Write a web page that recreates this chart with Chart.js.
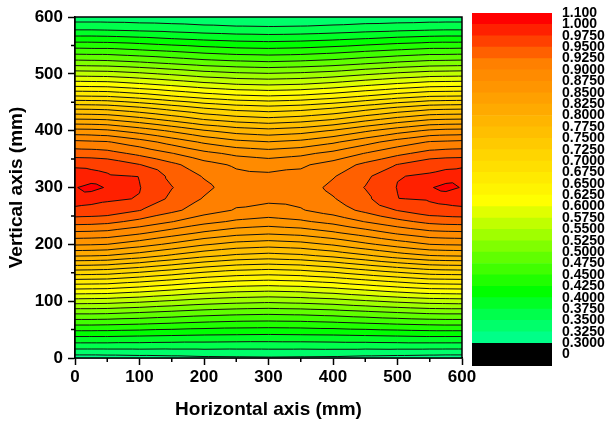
<!DOCTYPE html>
<html>
<head>
<meta charset="utf-8">
<title>Contour map</title>
<script src="https://cdn.jsdelivr.net/npm/chart.js@4.4.1/dist/chart.umd.min.js"></script>
<style>
  html, body { margin: 0; padding: 0; background: #fff; }
  #wrap { position: relative; width: 607px; height: 421px; overflow: hidden; }
  #main { position: absolute; left: 0; top: 0; }
  #bar { position: absolute; left: 460px; top: 0; }
</style>
</head>
<body>
<div id="wrap">
  <canvas id="main" width="482" height="421"></canvas>
  <canvas id="bar" width="147" height="421"></canvas>
</div>
<script>
// Filled contour map of a 600 x 600 mm plane, bands every 0.025, black isolines.
// Grid values (x across, y upwards).

const xNodes = [0, 25, 50, 100, 150, 200, 250, 300, 350, 400, 450, 500, 550, 575, 600];
const yNodes = [0, 20, 40, 60, 80, 100, 120, 140, 160, 180, 200, 220, 240, 260, 280, 300,
                320, 340, 360, 380, 400, 420, 440, 460, 480, 500, 520, 540, 560, 580, 600];

// zGrid[j][i] = value at (xNodes[i], yNodes[j])
const zGrid = [
  [0.312, 0.312, 0.313, 0.315, 0.317, 0.320, 0.321, 0.322, 0.321, 0.320, 0.317, 0.315, 0.313, 0.312, 0.312],
  [0.360, 0.360, 0.360, 0.360, 0.359, 0.359, 0.358, 0.358, 0.358, 0.359, 0.359, 0.360, 0.360, 0.360, 0.360],
  [0.405, 0.405, 0.405, 0.403, 0.401, 0.399, 0.398, 0.397, 0.398, 0.399, 0.401, 0.403, 0.405, 0.405, 0.405],
  [0.455, 0.455, 0.454, 0.451, 0.447, 0.443, 0.440, 0.439, 0.440, 0.443, 0.447, 0.451, 0.454, 0.455, 0.455],
  [0.506, 0.506, 0.505, 0.500, 0.494, 0.488, 0.484, 0.482, 0.484, 0.488, 0.494, 0.500, 0.505, 0.506, 0.506],
  [0.563, 0.562, 0.561, 0.555, 0.547, 0.539, 0.534, 0.531, 0.534, 0.539, 0.547, 0.555, 0.561, 0.562, 0.563],
  [0.621, 0.620, 0.619, 0.611, 0.601, 0.591, 0.584, 0.581, 0.584, 0.591, 0.601, 0.611, 0.619, 0.620, 0.621],
  [0.680, 0.679, 0.678, 0.668, 0.657, 0.645, 0.637, 0.633, 0.637, 0.645, 0.657, 0.668, 0.678, 0.679, 0.680],
  [0.741, 0.740, 0.738, 0.727, 0.714, 0.700, 0.690, 0.686, 0.690, 0.700, 0.714, 0.727, 0.738, 0.740, 0.741],
  [0.802, 0.801, 0.799, 0.787, 0.771, 0.756, 0.745, 0.740, 0.745, 0.756, 0.771, 0.787, 0.799, 0.801, 0.802],
  [0.853, 0.852, 0.850, 0.836, 0.820, 0.803, 0.791, 0.786, 0.791, 0.803, 0.820, 0.836, 0.850, 0.852, 0.853],
  [0.895, 0.894, 0.892, 0.879, 0.862, 0.846, 0.834, 0.829, 0.834, 0.846, 0.862, 0.879, 0.892, 0.894, 0.895],
  [0.936, 0.935, 0.932, 0.918, 0.901, 0.883, 0.871, 0.865, 0.871, 0.883, 0.901, 0.918, 0.932, 0.935, 0.936],
  [0.970, 0.968, 0.966, 0.951, 0.931, 0.912, 0.898, 0.892, 0.898, 0.912, 0.931, 0.951, 0.966, 0.968, 0.970],
  [0.985, 0.982, 0.978, 0.974, 0.944, 0.923, 0.907, 0.905, 0.907, 0.923, 0.944, 0.974, 0.978, 0.982, 0.985],
  [0.998, 1.010, 0.997, 0.976, 0.951, 0.931, 0.912, 0.910, 0.912, 0.931, 0.951, 0.976, 0.997, 1.010, 0.998],
  [0.986, 0.982, 0.978, 0.974, 0.944, 0.923, 0.907, 0.905, 0.907, 0.923, 0.944, 0.974, 0.978, 0.982, 0.986],
  [0.971, 0.970, 0.967, 0.951, 0.931, 0.910, 0.896, 0.890, 0.896, 0.910, 0.931, 0.951, 0.967, 0.970, 0.971],
  [0.938, 0.937, 0.934, 0.919, 0.901, 0.882, 0.869, 0.863, 0.869, 0.882, 0.901, 0.919, 0.934, 0.937, 0.938],
  [0.906, 0.904, 0.902, 0.886, 0.866, 0.846, 0.832, 0.826, 0.832, 0.846, 0.866, 0.886, 0.902, 0.904, 0.906],
  [0.858, 0.857, 0.854, 0.839, 0.821, 0.802, 0.789, 0.783, 0.789, 0.802, 0.821, 0.839, 0.854, 0.857, 0.858],
  [0.801, 0.800, 0.798, 0.784, 0.767, 0.749, 0.738, 0.732, 0.738, 0.749, 0.767, 0.784, 0.798, 0.800, 0.801],
  [0.744, 0.743, 0.741, 0.729, 0.714, 0.699, 0.689, 0.684, 0.689, 0.699, 0.714, 0.729, 0.741, 0.743, 0.744],
  [0.678, 0.677, 0.676, 0.666, 0.653, 0.641, 0.632, 0.628, 0.632, 0.641, 0.653, 0.666, 0.676, 0.677, 0.678],
  [0.619, 0.618, 0.617, 0.608, 0.598, 0.587, 0.579, 0.576, 0.579, 0.587, 0.598, 0.608, 0.617, 0.618, 0.619],
  [0.564, 0.563, 0.562, 0.555, 0.546, 0.536, 0.530, 0.527, 0.530, 0.536, 0.546, 0.555, 0.562, 0.563, 0.564],
  [0.510, 0.509, 0.508, 0.502, 0.494, 0.486, 0.481, 0.478, 0.481, 0.486, 0.494, 0.502, 0.508, 0.509, 0.510],
  [0.462, 0.461, 0.461, 0.455, 0.449, 0.442, 0.437, 0.435, 0.437, 0.442, 0.449, 0.455, 0.461, 0.461, 0.462],
  [0.415, 0.415, 0.414, 0.410, 0.404, 0.399, 0.395, 0.393, 0.395, 0.399, 0.404, 0.410, 0.414, 0.415, 0.415],
  [0.369, 0.369, 0.368, 0.365, 0.362, 0.358, 0.355, 0.354, 0.355, 0.358, 0.362, 0.365, 0.368, 0.369, 0.369],
  [0.335, 0.335, 0.335, 0.334, 0.333, 0.331, 0.330, 0.330, 0.330, 0.331, 0.333, 0.334, 0.335, 0.335, 0.335]
];

// band boundaries (also the isoline levels) and their colours
const levels = [0.300, 0.325, 0.350, 0.375, 0.400, 0.425, 0.450, 0.475, 0.500, 0.525,
                0.550, 0.575, 0.600, 0.625, 0.650, 0.675, 0.700, 0.725, 0.750, 0.775,
                0.800, 0.825, 0.850, 0.875, 0.900, 0.925, 0.950, 0.975, 1.000, 1.100];
const levelLabels = ['0.3000', '0.3250', '0.3500', '0.3750', '0.4000', '0.4250', '0.4500', '0.4750',
                     '0.5000', '0.5250', '0.5500', '0.5750', '0.6000', '0.6250', '0.6500', '0.6750',
                     '0.7000', '0.7250', '0.7500', '0.7750', '0.8000', '0.8250', '0.8500', '0.8750',
                     '0.9000', '0.9250', '0.9500', '0.9750', '1.000', '1.100'];
const bandColors = ['#00ff88', '#00ff6a', '#00ff4c', '#00ff26', '#00ff00', '#20ff00', '#40ff00',
                    '#60ff00', '#80ff00', '#a0ff00', '#c0ff00', '#e0ff00', '#ffff00', '#fff400',
                    '#ffea00', '#ffdf00', '#ffd500', '#ffca00', '#ffbf00', '#ffb500', '#ffaa00',
                    '#ffa000', '#ff9500', '#ff8b00', '#ff8000', '#ff6000', '#ff4000', '#ff2000',
                    '#ff0000'];
const belowColor = '#000000';
const belowLabel = '0';

const axisTicks = [0, 100, 200, 300, 400, 500, 600];
const minorTicks = [50, 150, 250, 350, 450, 550];

Chart.defaults.font.family = "'Liberation Sans', Arial, sans-serif";
Chart.defaults.font.weight = 'bold';
Chart.defaults.color = '#000';

function cellIndex(nodes, v) {
    let i = 0;
    while (i < nodes.length - 2 && v > nodes[i + 1]) i++;
    return i;
}

// linear value inside the two triangles of each grid cell
function sample(xv, yv) {
    const i = cellIndex(xNodes, xv), j = cellIndex(yNodes, yv);
    const u = (xv - xNodes[i]) / (xNodes[i + 1] - xNodes[i]);
    const v = (yv - yNodes[j]) / (yNodes[j + 1] - yNodes[j]);
    const z00 = zGrid[j][i], z10 = zGrid[j][i + 1], z01 = zGrid[j + 1][i], z11 = zGrid[j + 1][i + 1];
    if (u >= v) return z00 + u * (z10 - z00) + v * (z11 - z10);
    return z00 + v * (z01 - z00) + u * (z11 - z01);
}

function hexRgb(h) {
    return [parseInt(h.slice(1, 3), 16), parseInt(h.slice(3, 5), 16), parseInt(h.slice(5, 7), 16)];
}
const bandRgb = bandColors.map(hexRgb);
const belowRgb = hexRgb(belowColor);

function rgbFor(z) {
    if (z < levels[0]) return belowRgb;
    for (let k = bandRgb.length - 1; k >= 0; k--) {
        if (z >= levels[k]) return bandRgb[k];
    }
    return belowRgb;
}

const contourPlugin = {
    id: 'contour',
    beforeDatasetsDraw(chart) {
        const { ctx, chartArea: a, scales: { x, y } } = chart;
        const left = Math.round(a.left), top = Math.round(a.top);
        const w = Math.round(a.right) - left, h = Math.round(a.bottom) - top;
        const img = ctx.createImageData(w, h);
        for (let py = 0; py < h; py++) {
            const yv = y.getValueForPixel(top + py + 0.5);
            for (let px = 0; px < w; px++) {
                const xv = x.getValueForPixel(left + px + 0.5);
                const c = rgbFor(sample(xv, yv));
                const o = (py * w + px) * 4;
                img.data[o] = c[0]; img.data[o + 1] = c[1]; img.data[o + 2] = c[2]; img.data[o + 3] = 255;
            }
        }
        ctx.putImageData(img, left, top);

        // isolines, triangle by triangle
        ctx.save();
        ctx.beginPath();
        ctx.rect(a.left, a.top, a.right - a.left, a.bottom - a.top);
        ctx.clip();
        ctx.beginPath();
        for (let j = 0; j < yNodes.length - 1; j++) {
            for (let i = 0; i < xNodes.length - 1; i++) {
                const p00 = [xNodes[i], yNodes[j], zGrid[j][i]];
                const p10 = [xNodes[i + 1], yNodes[j], zGrid[j][i + 1]];
                const p01 = [xNodes[i], yNodes[j + 1], zGrid[j + 1][i]];
                const p11 = [xNodes[i + 1], yNodes[j + 1], zGrid[j + 1][i + 1]];
                [[p00, p10, p11], [p00, p11, p01]].forEach(tri => {
                    levels.forEach(L => {
                        const pts = [];
                        for (let e = 0; e < 3; e++) {
                            const pa = tri[e], pb = tri[(e + 1) % 3];
                            if ((pa[2] < L) !== (pb[2] < L)) {
                                const t = (L - pa[2]) / (pb[2] - pa[2]);
                                pts.push([pa[0] + t * (pb[0] - pa[0]), pa[1] + t * (pb[1] - pa[1])]);
                            }
                        }
                        if (pts.length === 2) {
                            ctx.moveTo(x.getPixelForValue(pts[0][0]), y.getPixelForValue(pts[0][1]));
                            ctx.lineTo(x.getPixelForValue(pts[1][0]), y.getPixelForValue(pts[1][1]));
                        }
                    });
                });
            }
        }
        ctx.strokeStyle = '#111';
        ctx.lineWidth = 1;
        ctx.stroke();
        ctx.restore();
    },
    afterDraw(chart) {
        const { ctx, chartArea: a, scales: { x, y } } = chart;
        ctx.save();
        ctx.strokeStyle = '#000';
        ctx.lineWidth = 1.5;
        ctx.strokeRect(a.left, a.top, a.right - a.left, a.bottom - a.top);
        ctx.beginPath();
        minorTicks.forEach(v => {
            const px = x.getPixelForValue(v);
            ctx.moveTo(px, a.bottom); ctx.lineTo(px, a.bottom + 4);
            const py = y.getPixelForValue(v);
            ctx.moveTo(a.left, py); ctx.lineTo(a.left - 4, py);
        });
        ctx.stroke();
        ctx.restore();
    }
};

const tickFont = { size: 17, weight: 'bold' };
const titleFont = { size: 19, weight: 'bold' };

// no extra room for the edge tick labels: the plot area is fixed by the layout padding
function noEdgePadding(s) {
    s.paddingLeft = 0; s.paddingRight = 0; s.paddingTop = 0; s.paddingBottom = 0;
}

new Chart(document.getElementById('main'), {
    type: 'scatter',
    data: { datasets: [] },
    options: {
        responsive: false,
        animation: false,
        devicePixelRatio: 1,
        layout: { padding: { top: 17, right: 20, left: 0, bottom: 0 } },
        plugins: { legend: { display: false }, tooltip: { enabled: false } },
        scales: {
            x: {
                type: 'linear', min: 0, max: 600,
                afterBuildTicks: s => { s.ticks = axisTicks.map(v => ({ value: v })); },
                afterFit: s => { s.height = 63; noEdgePadding(s); },
                ticks: { font: tickFont, padding: 2, maxRotation: 0, autoSkip: false },
                grid: { drawOnChartArea: false, tickLength: 7, tickWidth: 1.5, tickColor: '#000' },
                border: { color: '#000', width: 1.5 },
                title: { display: true, text: 'Horizontal axis (mm)', font: titleFont, padding: { top: 0, bottom: 0 } }
            },
            y: {
                type: 'linear', min: 0, max: 600,
                afterBuildTicks: s => { s.ticks = axisTicks.map(v => ({ value: v })); },
                afterFit: s => { s.width = 75; noEdgePadding(s); },
                ticks: { font: tickFont, padding: 5, autoSkip: false },
                grid: { drawOnChartArea: false, tickLength: 7, tickWidth: 1.5, tickColor: '#000' },
                border: { color: '#000', width: 1.5 },
                title: { display: true, text: 'Vertical axis (mm)', font: titleFont, padding: { top: 5, bottom: 0 } }
            }
        }
    },
    plugins: [contourPlugin]
});

// colour scale: one floating bar per band, black block for values below 0.3
const cbDatasets = [{ data: [[-2, 0]], backgroundColor: belowColor }]
    .concat(bandColors.map((c, k) => ({ data: [[k, k + 1]], backgroundColor: c })));

new Chart(document.getElementById('bar'), {
    type: 'bar',
    data: { labels: [''], datasets: cbDatasets },
    options: {
        responsive: false,
        animation: false,
        devicePixelRatio: 1,
        layout: { padding: { left: 12, top: 13, bottom: 55, right: 0 } },
        plugins: { legend: { display: false }, tooltip: { enabled: false } },
        datasets: { bar: { grouped: false, barPercentage: 1, categoryPercentage: 1, borderWidth: 0 } },
        scales: {
            x: { display: false },
            y: {
                position: 'right', min: -2, max: 29,
                afterBuildTicks: s => {
                    s.ticks = [{ value: -1 }].concat(levelLabels.map((l, k) => ({ value: k })));
                },
                afterFit: s => { s.width = 55; noEdgePadding(s); },
                ticks: {
                    autoSkip: false, padding: 10, font: { size: 14, weight: 'bold' },
                    callback: v => (v < 0 ? belowLabel : levelLabels[v])
                },
                grid: { display: false, drawTicks: false },
                border: { display: false }
            }
        }
    }
});
</script>
</body>
</html>
